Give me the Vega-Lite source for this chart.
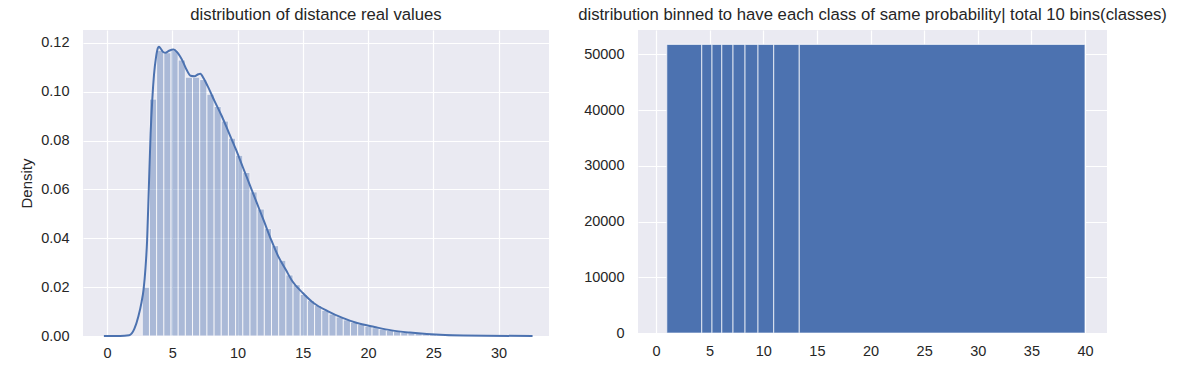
{
  "$schema": "https://vega.github.io/schema/vega-lite/v6.json",
  "background": "white",
  "padding": {"left": 19, "top": 7, "right": 5, "bottom": 5},
  "spacing": 29,
  "config": {
    "font": "Liberation Sans",
    "view": {"fill": "#EAEAF2", "stroke": null},
    "axis": {
      "gridColor": "white",
      "gridWidth": 1.2,
      "domain": false,
      "ticks": false,
      "labelColor": "#262626",
      "labelFontSize": 14.5,
      "labelFont": "Liberation Sans",
      "titleFont": "Liberation Sans",
      "titleFontSize": 15,
      "titleFontWeight": "normal",
      "titleColor": "#262626"
    },
    "title": {"fontSize": 16.7, "fontWeight": "normal", "color": "#262626", "font": "Liberation Sans", "anchor": "middle", "offset": 6}
  },
  "datasets": {
    "hist": [
      {"x0": 2.70, "x1": 3.25, "density": 0.020},
      {"x0": 3.25, "x1": 3.80, "density": 0.097},
      {"x0": 3.80, "x1": 4.35, "density": 0.117},
      {"x0": 4.35, "x1": 4.90, "density": 0.116},
      {"x0": 4.90, "x1": 5.45, "density": 0.117},
      {"x0": 5.45, "x1": 6.00, "density": 0.113},
      {"x0": 6.00, "x1": 6.55, "density": 0.106},
      {"x0": 6.55, "x1": 7.10, "density": 0.106},
      {"x0": 7.10, "x1": 7.65, "density": 0.105},
      {"x0": 7.65, "x1": 8.20, "density": 0.099},
      {"x0": 8.20, "x1": 8.75, "density": 0.094},
      {"x0": 8.75, "x1": 9.30, "density": 0.088},
      {"x0": 9.30, "x1": 9.85, "density": 0.081},
      {"x0": 9.85, "x1": 10.40, "density": 0.074},
      {"x0": 10.40, "x1": 10.95, "density": 0.067},
      {"x0": 10.95, "x1": 11.50, "density": 0.059},
      {"x0": 11.50, "x1": 12.05, "density": 0.052},
      {"x0": 12.05, "x1": 12.60, "density": 0.044},
      {"x0": 12.60, "x1": 13.15, "density": 0.037},
      {"x0": 13.15, "x1": 13.70, "density": 0.031},
      {"x0": 13.70, "x1": 14.25, "density": 0.025},
      {"x0": 14.25, "x1": 14.80, "density": 0.021},
      {"x0": 14.80, "x1": 15.35, "density": 0.017},
      {"x0": 15.35, "x1": 15.90, "density": 0.0145},
      {"x0": 15.90, "x1": 16.45, "density": 0.0125},
      {"x0": 16.45, "x1": 17.00, "density": 0.0105},
      {"x0": 17.00, "x1": 17.55, "density": 0.009},
      {"x0": 17.55, "x1": 18.10, "density": 0.0078},
      {"x0": 18.10, "x1": 18.65, "density": 0.0066},
      {"x0": 18.65, "x1": 19.20, "density": 0.0056},
      {"x0": 19.20, "x1": 19.75, "density": 0.0047},
      {"x0": 19.75, "x1": 20.30, "density": 0.0040},
      {"x0": 20.30, "x1": 20.85, "density": 0.0034},
      {"x0": 20.85, "x1": 21.40, "density": 0.0028},
      {"x0": 21.40, "x1": 21.95, "density": 0.0023},
      {"x0": 21.95, "x1": 22.50, "density": 0.0019},
      {"x0": 22.50, "x1": 23.05, "density": 0.0016},
      {"x0": 23.05, "x1": 23.60, "density": 0.0013},
      {"x0": 23.60, "x1": 24.15, "density": 0.0010},
      {"x0": 24.15, "x1": 24.70, "density": 0.0008},
      {"x0": 24.70, "x1": 25.25, "density": 0.0006},
      {"x0": 25.25, "x1": 25.80, "density": 0.0005},
      {"x0": 25.80, "x1": 26.35, "density": 0.0004},
      {"x0": 26.35, "x1": 26.90, "density": 0.0003},
      {"x0": 26.90, "x1": 27.45, "density": 0.0002},
      {"x0": 27.45, "x1": 28.00, "density": 0.00015},
      {"x0": 28.00, "x1": 28.55, "density": 0.0001},
      {"x0": 28.55, "x1": 29.10, "density": 0.00008},
      {"x0": 29.10, "x1": 29.65, "density": 0.00005},
      {"x0": 29.65, "x1": 30.20, "density": 0.00003}
    ],
    "kde": [
      {"x": -0.24, "density": 0},
      {"x": 1.0, "density": 0},
      {"x": 1.7, "density": 0.0003},
      {"x": 2.1, "density": 0.003},
      {"x": 2.4, "density": 0.008},
      {"x": 2.65, "density": 0.014},
      {"x": 2.8, "density": 0.019},
      {"x": 2.95, "density": 0.028},
      {"x": 3.07, "density": 0.039},
      {"x": 3.2, "density": 0.060},
      {"x": 3.34, "density": 0.083},
      {"x": 3.47, "density": 0.097},
      {"x": 3.6, "density": 0.107},
      {"x": 3.75, "density": 0.114},
      {"x": 3.9, "density": 0.118},
      {"x": 3.97, "density": 0.1184},
      {"x": 4.1, "density": 0.1178},
      {"x": 4.3, "density": 0.1163},
      {"x": 4.48, "density": 0.1160},
      {"x": 4.75, "density": 0.1168},
      {"x": 5.1, "density": 0.1173},
      {"x": 5.4, "density": 0.1160},
      {"x": 5.8, "density": 0.1125},
      {"x": 6.1, "density": 0.1090},
      {"x": 6.4, "density": 0.1066},
      {"x": 6.7, "density": 0.1064},
      {"x": 7.0, "density": 0.1072},
      {"x": 7.15, "density": 0.1074},
      {"x": 7.4, "density": 0.1055},
      {"x": 7.7, "density": 0.1024},
      {"x": 8.23, "density": 0.0963},
      {"x": 8.78, "density": 0.0902},
      {"x": 9.32, "density": 0.0834},
      {"x": 9.86, "density": 0.0766},
      {"x": 10.4, "density": 0.0692},
      {"x": 10.95, "density": 0.0617},
      {"x": 11.5, "density": 0.0542},
      {"x": 12.04, "density": 0.0468},
      {"x": 12.58, "density": 0.0393},
      {"x": 13.1, "density": 0.0328},
      {"x": 13.7, "density": 0.0271},
      {"x": 14.2, "density": 0.0224},
      {"x": 15.0, "density": 0.0176},
      {"x": 15.8, "density": 0.0136},
      {"x": 16.9, "density": 0.0102},
      {"x": 18.0, "density": 0.0075},
      {"x": 19.1, "density": 0.0054},
      {"x": 20.5, "density": 0.0037},
      {"x": 21.8, "density": 0.0023},
      {"x": 23.2, "density": 0.0014},
      {"x": 24.5, "density": 0.0008},
      {"x": 25.9, "density": 0.0004},
      {"x": 27.3, "density": 0.0002},
      {"x": 29.0, "density": 0.0001},
      {"x": 32.6, "density": 0}
    ],
    "bins": [
      {"left": 1.0, "right": 4.26, "count": 51800},
      {"left": 4.26, "right": 5.22, "count": 51800},
      {"left": 5.22, "right": 6.13, "count": 51800},
      {"left": 6.13, "right": 7.18, "count": 51800},
      {"left": 7.18, "right": 8.30, "count": 51800},
      {"left": 8.30, "right": 9.51, "count": 51800},
      {"left": 9.51, "right": 10.97, "count": 51800},
      {"left": 10.97, "right": 13.36, "count": 51800},
      {"left": 13.36, "right": 40.0, "count": 51800}
    ]
  },
  "hconcat": [
    {
      "width": 466,
      "height": 306,
      "title": {"text": "distribution of distance real values"},
      "layer": [
        {
          "data": {"name": "hist"},
          "mark": {"type": "bar", "color": "#4C72B0", "opacity": 0.4, "stroke": "white", "strokeWidth": 1},
          "encoding": {
            "x": {"field": "x0", "type": "quantitative", "scale": {"domain": [-1.84, 33.86], "nice": false, "zero": false},
                  "axis": {"values": [0, 5, 10, 15, 20, 25, 30], "title": null, "labelPadding": 10}},
            "x2": {"field": "x1"},
            "y": {"field": "density", "type": "quantitative", "scale": {"domain": [0, 0.1253], "nice": false},
                  "axis": {"values": [0, 0.02, 0.04, 0.06, 0.08, 0.1, 0.12], "format": ".2f", "title": "Density", "labelPadding": 14, "titlePadding": 6}},
            "y2": {"datum": 0}
          }
        },
        {
          "data": {"name": "kde"},
          "mark": {"type": "line", "color": "#4C72B0", "strokeWidth": 2, "interpolate": "monotone"},
          "encoding": {
            "x": {"field": "x", "type": "quantitative"},
            "y": {"field": "density", "type": "quantitative"}
          }
        }
      ]
    },
    {
      "width": 469,
      "height": 303,
      "title": {"text": "distribution binned to have each class of same probability| total 10 bins(classes)"},
      "data": {"name": "bins"},
      "mark": {"type": "bar", "color": "#4C72B0", "stroke": "white", "strokeWidth": 1.2, "strokeOpacity": 0.6},
      "encoding": {
        "x": {"field": "left", "type": "quantitative", "scale": {"domain": [-1.68, 42.05], "nice": false, "zero": false},
              "axis": {"values": [0, 5, 10, 15, 20, 25, 30, 35, 40], "title": null, "labelPadding": 11}},
        "x2": {"field": "right"},
        "y": {"field": "count", "type": "quantitative", "scale": {"domain": [0, 54390], "nice": false},
              "axis": {"values": [0, 10000, 20000, 30000, 40000, 50000], "format": "d", "title": null, "labelPadding": 14}},
        "y2": {"datum": 0}
      }
    }
  ]
}
